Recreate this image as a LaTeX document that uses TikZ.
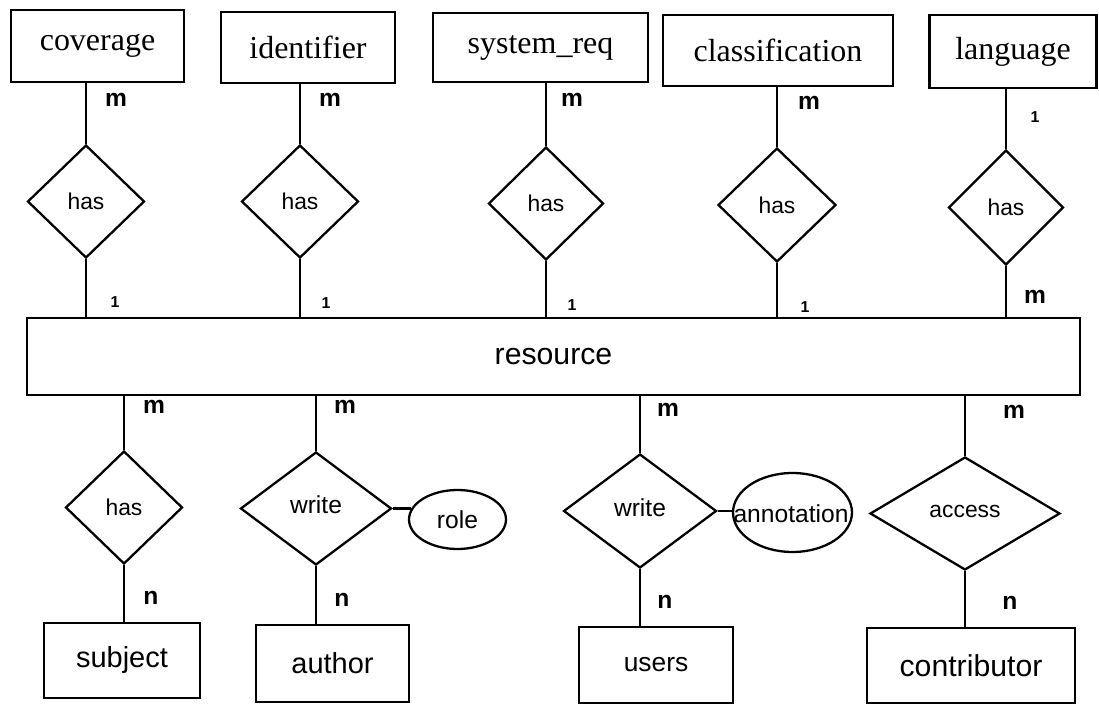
\documentclass[tikz,border=0pt]{standalone}
\usepackage{fontspec}
\setmainfont{Liberation Serif}
\setsansfont{Liberation Sans}
\usetikzlibrary{shapes.geometric}

\begin{document}
\begin{tikzpicture}[x=0.02cm, y=-0.02cm, line width=1.3pt,
  topent/.style={draw, rectangle, inner sep=0pt, font=\fontsize{18.2}{20}\selectfont},
  botent/.style={draw, rectangle, inner sep=0pt, font=\sffamily\fontsize{16.5}{19}\selectfont},
  rel/.style={draw, diamond, inner sep=0pt, font=\sffamily\fontsize{13}{15}\selectfont},
  attr/.style={draw, ellipse, inner sep=0pt},
  attrtext/.style={inner sep=0pt, font=\sffamily\fontsize{14}{16}\selectfont},
  card/.style={inner sep=0pt, font=\sffamily\bfseries\fontsize{14}{16}\selectfont},
  one/.style={inner sep=0pt, font=\sffamily\bfseries\fontsize{9}{10}\selectfont}]
	\useasboundingbox (0, 0) rectangle (1099, 705);

	% top entities
	\node [topent, minimum width=3.46cm, minimum height=1.44cm] (coverage) at (97.5, 46) {coverage};
	\node [topent, minimum width=3.48cm, minimum height=1.42cm] (identifier) at (308, 47.5) {identifier};
	\node [topent, minimum width=4.30cm, minimum height=1.38cm] (sysreq) at (540.5, 47.5) {system\_req};
	\node [topent, minimum width=4.60cm, minimum height=1.42cm] (classification) at (778, 50.5) {classification};
	\node [topent, minimum width=3.34cm, minimum height=1.46cm] (language) at (1013, 51.5) {language};

	% top relations
	\node [rel, minimum width=2.34cm, minimum height=2.26cm] (hascov) at (86, 201.5) {has};
	\node [rel, minimum width=2.34cm, minimum height=2.26cm] (hasid) at (300, 201.5) {has};
	\node [rel, minimum width=2.30cm, minimum height=2.26cm] (hassys) at (546, 203.5) {has};
	\node [rel, minimum width=2.36cm, minimum height=2.28cm] (hascls) at (777, 205) {has};
	\node [rel, minimum width=2.30cm, minimum height=2.30cm] (haslang) at (1006, 207.5) {has};

	% central entity
	\node [botent, minimum width=21.06cm, minimum height=1.54cm, font=\sffamily\fontsize{17.2}{20}\selectfont] (resource) at (553.5, 356.5) {resource};

	% bottom relations
	\node [rel, minimum width=2.34cm, minimum height=2.26cm] (hassub) at (124, 507.5) {has};
	\node [rel, minimum width=3.02cm, minimum height=2.26cm, font=\sffamily\fontsize{14}{16}\selectfont] (writeauth) at (316, 508.5) {\raisebox{4pt}{write}};
	\node [rel, minimum width=3.06cm, minimum height=2.28cm, font=\sffamily\fontsize{14}{16}\selectfont] (writeuser) at (640, 511) {\raisebox{4pt}{write}};
	\node [rel, minimum width=3.80cm, minimum height=2.26cm] (access) at (965, 513.5) {\raisebox{3pt}{access}};

	% attributes
	\node [attr, minimum width=1.94cm, minimum height=1.18cm] (role) at (457.5, 519.5) {};
	\node [attrtext] (roletext) at (role) {role};
	\node [attr, minimum width=2.38cm, minimum height=1.58cm] (annotation) at (792.5, 512.5) {};
	\node [attrtext] (annotext) at (791, 514) {annotation};

	% bottom entities
	\node [botent, minimum width=3.12cm, minimum height=1.50cm] (subject) at (122, 660.5) {subject};
	\node [botent, minimum width=3.06cm, minimum height=1.54cm] (author) at (332.5, 663.5) {author};
	\node [botent, minimum width=3.08cm, minimum height=1.52cm, font=\sffamily\fontsize{15}{18}\selectfont] (users) at (656, 665) {users};
	\node [botent, minimum width=4.16cm, minimum height=1.50cm, font=\sffamily\fontsize{17.2}{20}\selectfont] (contributor) at (971, 665.5) {contributor};

	% connectors above resource
	\draw (hascov.north) -- (hascov.north |- coverage.south);
	\draw (hasid.north) -- (hasid.north |- identifier.south);
	\draw (hassys.north) -- (hassys.north |- sysreq.south);
	\draw (hascls.north) -- (hascls.north |- classification.south);
	\draw (haslang.north) -- (haslang.north |- language.south);
	\draw (hascov.south) -- (hascov.south |- resource.north);
	\draw (hasid.south) -- (hasid.south |- resource.north);
	\draw (hassys.south) -- (hassys.south |- resource.north);
	\draw (hascls.south) -- (hascls.south |- resource.north);
	\draw (haslang.south) -- (haslang.south |- resource.north);

	% connectors below resource
	\draw (hassub.north |- resource.south) -- (hassub.north);
	\draw (writeauth.north |- resource.south) -- (writeauth.north);
	\draw (writeuser.north |- resource.south) -- (writeuser.north);
	\draw (access.north |- resource.south) -- (access.north);
	\draw (hassub.south) -- (hassub.south |- subject.north);
	\draw (writeauth.south) -- (writeauth.south |- author.north);
	\draw (writeuser.south) -- (writeuser.south |- users.north);
	\draw (access.south) -- (access.south |- contributor.north);
	\draw (writeauth.east) -- (writeauth.east -| role.167);
	\draw (writeuser.east) -- (writeuser.east -| annotation.west);

	% cardinalities
	\node [card] (m1) at (116, 100) {m};
	\node [card] (m2) at (330, 100) {m};
	\node [card] (m3) at (572, 100) {m};
	\node [card] (m4) at (809, 103) {m};
	\node [one] (o5) at (1035, 117) {1};
	\node [one] (o1) at (115, 302) {1};
	\node [one] (o2) at (326, 303) {1};
	\node [one] (o3) at (572, 305) {1};
	\node [one] (o4) at (805, 307) {1};
	\node [card] (m5) at (1035, 297) {m};
	\node [card] (m6) at (154, 407) {m};
	\node [card] (m7) at (345, 407) {m};
	\node [card] (m8) at (668, 410) {m};
	\node [card] (m9) at (1014, 412) {m};
	\node [card] (n1) at (151, 598) {n};
	\node [card] (n2) at (342, 600) {n};
	\node [card] (n3) at (665, 602) {n};
	\node [card] (n4) at (1010, 603) {n};
\end{tikzpicture}
\end{document}
